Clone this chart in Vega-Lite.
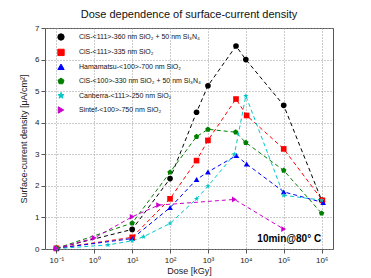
{
  "$schema": "https://vega.github.io/schema/vega-lite/v6.json",
  "autosize": "none",
  "width": 288,
  "height": 221,
  "padding": {"left": 45, "top": 28, "right": 38, "bottom": 29},
  "background": "white",
  "config": {
    "font": "Liberation Sans",
    "view": {"stroke": "#555", "strokeWidth": 1},
    "axis": {"labelColor": "#222", "titleColor": "#222", "titleFontWeight": "normal", "gridDash": [1, 2], "gridColor": "#999", "gridOpacity": 1, "domain": false, "tickColor": "#555", "labelFontSize": 8, "titleFontSize": 9},
    "legend": {"title": null, "orient": "none", "legendX": 12, "legendY": 5, "labelFontSize": 7, "labelColor": "#111", "rowPadding": 3.4, "symbolSize": 40, "labelOffset": 14, "labelLimit": 250, "symbolStrokeWidth": 1}
  },
  "title": {"text": "Dose dependence of surface-current density", "fontSize": 11, "fontWeight": "normal", "offset": 4, "color": "#111"},
  "data": {"values": [
      {"s": "CiS-<111>-360 nm SiO₂ + 50 nm Si₃N₄", "dose": 0.1, "j": 0.02},
      {"s": "CiS-<111>-360 nm SiO₂ + 50 nm Si₃N₄", "dose": 10, "j": 0.62},
      {"s": "CiS-<111>-360 nm SiO₂ + 50 nm Si₃N₄", "dose": 100, "j": 2.23},
      {"s": "CiS-<111>-360 nm SiO₂ + 50 nm Si₃N₄", "dose": 500, "j": 4.33},
      {"s": "CiS-<111>-360 nm SiO₂ + 50 nm Si₃N₄", "dose": 1000, "j": 5.17},
      {"s": "CiS-<111>-360 nm SiO₂ + 50 nm Si₃N₄", "dose": 5500, "j": 6.43},
      {"s": "CiS-<111>-360 nm SiO₂ + 50 nm Si₃N₄", "dose": 10000, "j": 6.0},
      {"s": "CiS-<111>-360 nm SiO₂ + 50 nm Si₃N₄", "dose": 100000, "j": 4.55},
      {"s": "CiS-<111>-360 nm SiO₂ + 50 nm Si₃N₄", "dose": 1000000, "j": 1.55},
      {"s": "CiS-<111>-335 nm SiO₂", "dose": 0.1, "j": 0.02},
      {"s": "CiS-<111>-335 nm SiO₂", "dose": 10, "j": 0.37},
      {"s": "CiS-<111>-335 nm SiO₂", "dose": 100, "j": 1.59},
      {"s": "CiS-<111>-335 nm SiO₂", "dose": 500, "j": 2.8},
      {"s": "CiS-<111>-335 nm SiO₂", "dose": 1000, "j": 3.44},
      {"s": "CiS-<111>-335 nm SiO₂", "dose": 5500, "j": 4.75},
      {"s": "CiS-<111>-335 nm SiO₂", "dose": 10500, "j": 4.23},
      {"s": "CiS-<111>-335 nm SiO₂", "dose": 100000, "j": 3.17},
      {"s": "CiS-<111>-335 nm SiO₂", "dose": 1050000, "j": 1.54},
      {"s": "Hamamatsu-<100>-700 nm SiO₂", "dose": 0.1, "j": 0.02},
      {"s": "Hamamatsu-<100>-700 nm SiO₂", "dose": 10, "j": 0.33},
      {"s": "Hamamatsu-<100>-700 nm SiO₂", "dose": 100, "j": 1.31},
      {"s": "Hamamatsu-<100>-700 nm SiO₂", "dose": 500, "j": 2.2},
      {"s": "Hamamatsu-<100>-700 nm SiO₂", "dose": 1000, "j": 2.44},
      {"s": "Hamamatsu-<100>-700 nm SiO₂", "dose": 5600, "j": 2.96},
      {"s": "Hamamatsu-<100>-700 nm SiO₂", "dose": 10500, "j": 2.69},
      {"s": "Hamamatsu-<100>-700 nm SiO₂", "dose": 100000, "j": 1.81},
      {"s": "Hamamatsu-<100>-700 nm SiO₂", "dose": 1100000, "j": 1.47},
      {"s": "CiS-<100>-330 nm SiO₂ + 50 nm Si₃N₄", "dose": 0.1, "j": 0.02},
      {"s": "CiS-<100>-330 nm SiO₂ + 50 nm Si₃N₄", "dose": 10, "j": 0.82},
      {"s": "CiS-<100>-330 nm SiO₂ + 50 nm Si₃N₄", "dose": 100, "j": 2.43},
      {"s": "CiS-<100>-330 nm SiO₂ + 50 nm Si₃N₄", "dose": 500, "j": 3.56},
      {"s": "CiS-<100>-330 nm SiO₂ + 50 nm Si₃N₄", "dose": 1000, "j": 3.79},
      {"s": "CiS-<100>-330 nm SiO₂ + 50 nm Si₃N₄", "dose": 5400, "j": 3.7},
      {"s": "CiS-<100>-330 nm SiO₂ + 50 nm Si₃N₄", "dose": 10000, "j": 3.37},
      {"s": "CiS-<100>-330 nm SiO₂ + 50 nm Si₃N₄", "dose": 100000, "j": 2.49},
      {"s": "CiS-<100>-330 nm SiO₂ + 50 nm Si₃N₄", "dose": 1000000, "j": 1.13},
      {"s": "Canberra-<111>-250 nm SiO₂", "dose": 0.1, "j": 0.01},
      {"s": "Canberra-<111>-250 nm SiO₂", "dose": 2.3, "j": 0.13},
      {"s": "Canberra-<111>-250 nm SiO₂", "dose": 10, "j": 0.26},
      {"s": "Canberra-<111>-250 nm SiO₂", "dose": 20, "j": 0.39},
      {"s": "Canberra-<111>-250 nm SiO₂", "dose": 100, "j": 0.81},
      {"s": "Canberra-<111>-250 nm SiO₂", "dose": 500, "j": 1.59},
      {"s": "Canberra-<111>-250 nm SiO₂", "dose": 1000, "j": 1.99},
      {"s": "Canberra-<111>-250 nm SiO₂", "dose": 5000, "j": 3.0},
      {"s": "Canberra-<111>-250 nm SiO₂", "dose": 10000, "j": 4.85},
      {"s": "Canberra-<111>-250 nm SiO₂", "dose": 100000, "j": 1.7},
      {"s": "Canberra-<111>-250 nm SiO₂", "dose": 1000000, "j": 1.55},
      {"s": "Sintef-<100>-750 nm SiO₂", "dose": 0.1, "j": 0.02},
      {"s": "Sintef-<100>-750 nm SiO₂", "dose": 1, "j": 0.35},
      {"s": "Sintef-<100>-750 nm SiO₂", "dose": 10, "j": 1.02},
      {"s": "Sintef-<100>-750 nm SiO₂", "dose": 50, "j": 1.39},
      {"s": "Sintef-<100>-750 nm SiO₂", "dose": 5000, "j": 1.57},
      {"s": "Sintef-<100>-750 nm SiO₂", "dose": 100000, "j": 0.63}
  ]},
  "encoding": {
    "x": {"field": "dose", "type": "quantitative", "scale": {"type": "log", "domain": [0.05, 2000000], "nice": false},
      "axis": {"title": "Dose [kGy]", "values": [0.1, 1, 10, 100, 1000, 10000, 100000, 1000000], "tickSize": 4, "titlePadding": 2, "labelPadding": 3,
        "labelExpr": "datum.value < 0.5 ? '10⁻¹' : datum.value < 5 ? '10⁰' : datum.value < 50 ? '10¹' : datum.value < 500 ? '10²' : datum.value < 5000 ? '10³' : datum.value < 50000 ? '10⁴' : datum.value < 500000 ? '10⁵' : '10⁶'"}},
    "y": {"field": "j", "type": "quantitative", "scale": {"domain": [0, 7], "nice": false},
      "axis": {"title": "Surface-current density [μA/cm²]", "values": [0, 1, 2, 3, 4, 5, 6, 7], "tickSize": 4, "titlePadding": 6}},
    "color": {"field": "s", "type": "nominal",
      "scale": {"domain": ["CiS-<111>-360 nm SiO₂ + 50 nm Si₃N₄", "CiS-<111>-335 nm SiO₂", "Hamamatsu-<100>-700 nm SiO₂", "CiS-<100>-330 nm SiO₂ + 50 nm Si₃N₄", "Canberra-<111>-250 nm SiO₂", "Sintef-<100>-750 nm SiO₂"],
        "range": ["#000000", "#ff0000", "#0000ff", "#008000", "#00c8c8", "#cc00cc"]}}
  },
  "layer": [
    {
      "mark": {"type": "line", "strokeDash": [4, 3], "strokeWidth": 1}
    },
    {
      "mark": {"type": "point", "filled": true, "opacity": 1, "size": 32},
      "encoding": {
        "shape": {"field": "s", "type": "nominal",
          "scale": {"domain": ["CiS-<111>-360 nm SiO₂ + 50 nm Si₃N₄", "CiS-<111>-335 nm SiO₂", "Hamamatsu-<100>-700 nm SiO₂", "CiS-<100>-330 nm SiO₂ + 50 nm Si₃N₄", "Canberra-<111>-250 nm SiO₂", "Sintef-<100>-750 nm SiO₂"],
            "range": ["circle", "square", "triangle-up", "M0,-1L0.951,-0.309L0.588,0.809L-0.588,0.809L-0.951,-0.309Z", "M0,-1L0.235,-0.324L0.951,-0.309L0.38,0.124L0.588,0.809L0,0.4L-0.588,0.809L-0.38,0.124L-0.951,-0.309L-0.235,-0.324Z", "triangle-right"]}}
      }
    },
    {
      "data": {"values": [{"dose": 140000, "j": 0.32, "t": "10min@80° C"}]},
      "mark": {"type": "text", "fontSize": 10, "fontWeight": "bold", "color": "#000"},
      "encoding": {
        "text": {"field": "t"},
        "color": {"value": "#000"}
      }
    }
  ]
}
